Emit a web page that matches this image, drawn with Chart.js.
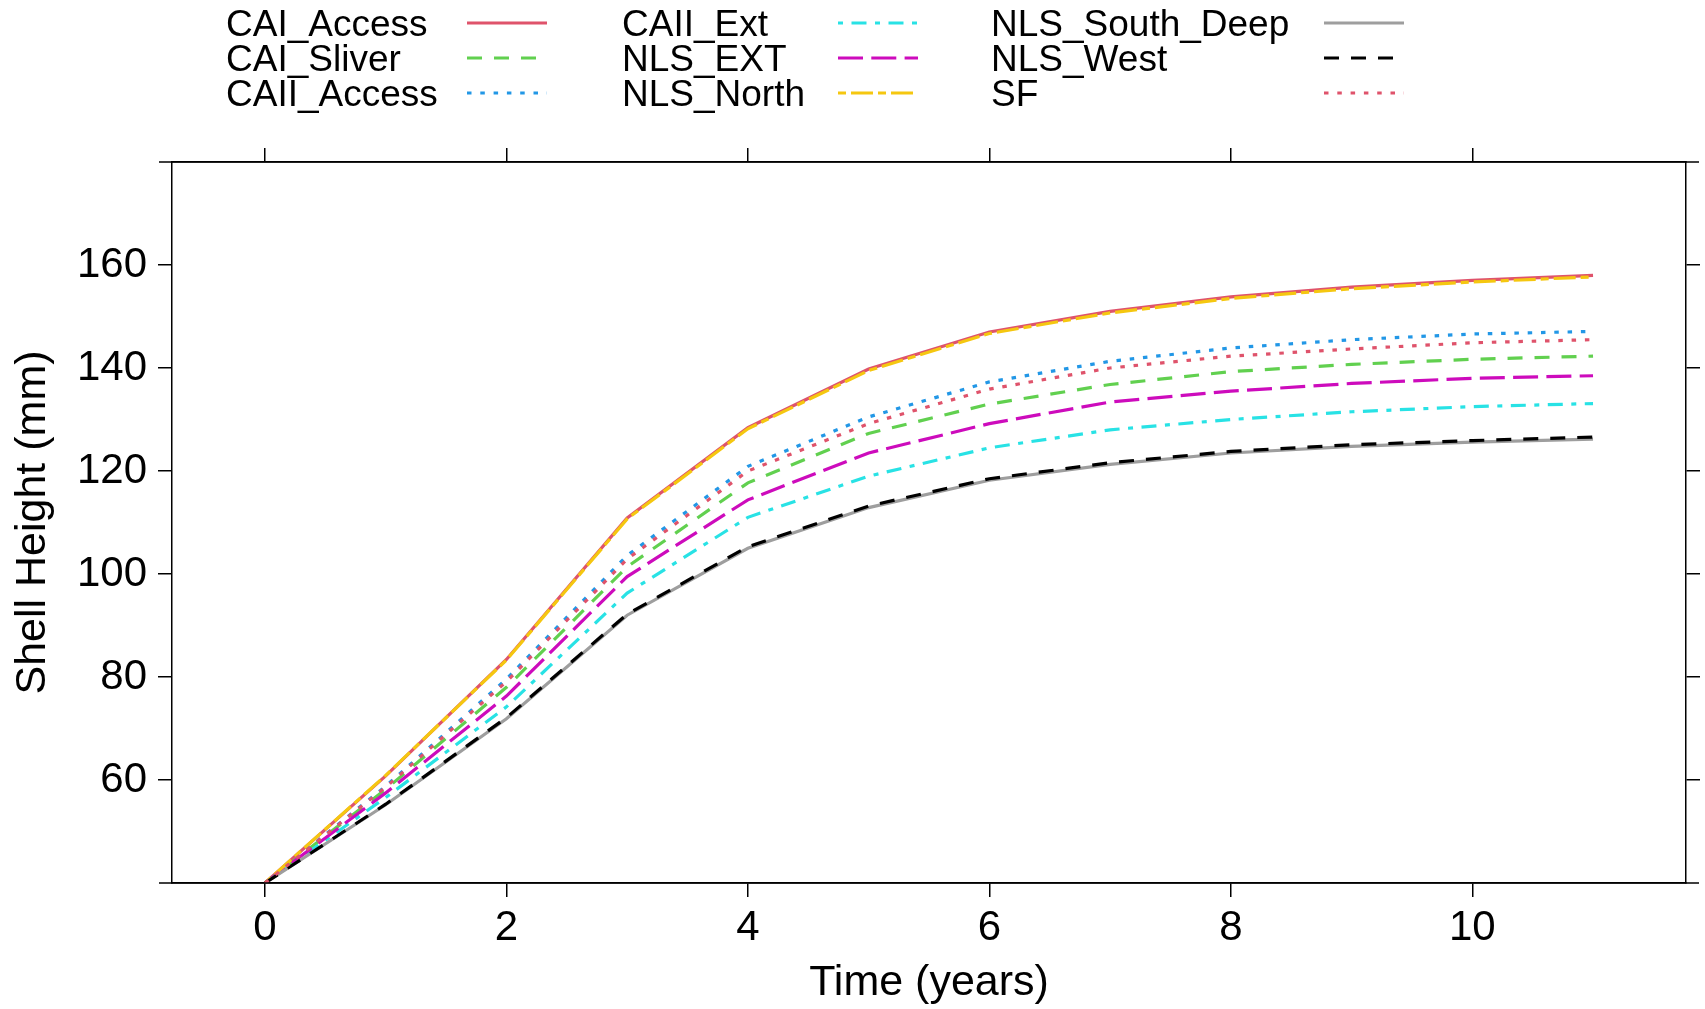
<!DOCTYPE html>
<html>
<head>
<meta charset="utf-8">
<script src="https://cdn.jsdelivr.net/npm/chart.js@4.4.1/dist/chart.umd.min.js"></script>
<style>
  body { margin: 0; background: #fff; }
  canvas { display: block; }
</style>
</head>
<body>
<canvas id="shell_growth" width="1705" height="1009"></canvas>
<script>
// Growth curves (shell height in mm at each age)

const years = [0, 1, 2, 3, 4, 5, 6, 7, 8, 9, 10, 11];

const cai_access     = [40, 60.8, 83.4, 110.9, 128.4, 139.8, 147.0, 151.0, 153.8, 155.7, 157.0, 158.0];
const cai_sliver     = [40, 58.2, 78.0, 101.4, 117.7, 127.3, 133.0, 136.8, 139.3, 140.7, 141.7, 142.3];
const caii_access    = [40, 58.8, 79.6, 103.6, 120.9, 130.5, 137.3, 141.3, 143.9, 145.5, 146.6, 147.1];
const caii_ext       = [40, 56.6, 74.2, 96.3, 111.0, 119.0, 124.5, 128.0, 130.0, 131.5, 132.5, 133.1];
const nls_ext        = [40, 57.5, 76.3, 99.5, 114.4, 123.5, 129.2, 133.4, 135.5, 137.0, 138.0, 138.5];
const nls_north      = [40, 60.9, 83.3, 110.7, 128.2, 139.5, 146.7, 150.7, 153.5, 155.4, 156.7, 157.7];
const nls_south_deep = [40, 55.2, 71.9, 92.0, 105.0, 112.9, 118.2, 121.3, 123.5, 124.8, 125.6, 126.2];
const nls_west       = [40, 55.3, 72.1, 92.2, 105.3, 113.2, 118.5, 121.6, 123.8, 125.1, 125.9, 126.6];
const sf             = [40, 58.6, 79.1, 102.9, 120.0, 129.2, 135.9, 140.0, 142.3, 143.7, 144.9, 145.5];

const seriesNames = ['CAI_Access', 'CAI_Sliver', 'CAII_Access', 'CAII_Ext', 'NLS_EXT',
                     'NLS_North', 'NLS_South_Deep', 'NLS_West', 'SF'];
const seriesValues = [cai_access, cai_sliver, caii_access, caii_ext, nls_ext,
                      nls_north, nls_south_deep, nls_west, sf];

const xTicks = [0, 2, 4, 6, 8, 10];
const yTicks = [60, 80, 100, 120, 140, 160];

// styles (R default palette + lty 1..6 cycling)
const lineColors = ['#DF536B', '#61D04F', '#2297E6', '#28E2E5', '#CD0BBC',
                    '#F5C710', '#9E9E9E', '#000000', '#DF536B'];
const dashed = [15, 12];
const dotted = [4.5, 8.8];
const lineDashes = [[], dashed, dotted, [5, 8.5, 15, 8.5], [25, 8.3],
                    [8, 5, 22, 5], [], dashed, dotted];

const fontFamily = '"Liberation Sans", Arial, sans-serif';

const datasets = seriesNames.map((name, i) => ({
    label: name,
    data: years.map((t, j) => ({ x: t, y: seriesValues[i][j] })),
    borderColor: lineColors[i],
    borderDash: lineDashes[i],
    borderWidth: 3.2,
    pointRadius: 0,
    tension: 0,
    fill: false,
    order: seriesNames.length - i,
}));

// legend drawn as text followed by a line sample, three columns of three
const sideLegend = {
    id: 'sideLegend',
    afterDraw(chart) {
        const ctx = chart.ctx;
        const textX = [226, 622, 991];
        const lineX = [467, 838, 1324];
        const rowY = [25, 60, 95];
        ctx.save();
        ctx.font = '37px ' + fontFamily;
        ctx.fillStyle = '#000';
        ctx.textBaseline = 'middle';
        chart.data.datasets.forEach((ds, i) => {
            const col = Math.floor(i / 3), row = i % 3;
            ctx.fillText(ds.label, textX[col], rowY[row] + 1);
            ctx.beginPath();
            ctx.strokeStyle = ds.borderColor;
            ctx.lineWidth = 3.2;
            ctx.setLineDash(ds.borderDash);
            ctx.moveTo(lineX[col], rowY[row] - 2);
            ctx.lineTo(lineX[col] + 80, rowY[row] - 2);
            ctx.stroke();
        });
        ctx.restore();
    }
};

// top and bottom box lines run slightly past the sides
const boxLines = {
    id: 'boxLines',
    afterDraw(chart) {
        const { ctx, chartArea: a } = chart;
        ctx.save();
        ctx.strokeStyle = '#000';
        ctx.lineWidth = 1.5;
        ctx.beginPath();
        ctx.moveTo(a.left - 13, a.top); ctx.lineTo(a.right + 13, a.top);
        ctx.moveTo(a.left - 13, a.bottom); ctx.lineTo(a.right + 13, a.bottom);
        ctx.stroke();
        ctx.restore();
    }
};

const frameGrid = { drawOnChartArea: false, drawTicks: true, tickLength: 14, color: '#000', lineWidth: 1.5 };
const frameBorder = { display: true, color: '#000', width: 1.5 };

new Chart(document.getElementById('shell_growth'), {
    type: 'line',
    data: { datasets: datasets },
    options: {
        responsive: false,
        animation: false,
        layout: { padding: 0 },
        plugins: {
            legend: { display: false },
            tooltip: { enabled: false },
        },
        scales: {
            x: {
                type: 'linear', position: 'bottom', min: -0.77, max: 11.77,
                afterBuildTicks: s => { s.ticks = xTicks.map(v => ({ value: v })); },
                afterFit: s => { s.height = 126; },
                grid: frameGrid, border: frameBorder,
                ticks: { color: '#000', font: { family: fontFamily, size: 42 }, padding: 6, maxRotation: 0 },
                title: { display: true, text: 'Time (years)', color: '#000',
                         font: { family: fontFamily, size: 43 }, padding: { top: 0, bottom: 0 } },
            },
            xTop: {
                type: 'linear', position: 'top', min: -0.77, max: 11.77,
                afterBuildTicks: s => { s.ticks = xTicks.map(v => ({ value: v })); },
                afterFit: s => { s.height = 162; },
                grid: frameGrid, border: frameBorder,
                ticks: { display: false },
            },
            y: {
                type: 'linear', position: 'left', min: 40, max: 180,
                afterBuildTicks: s => { s.ticks = yTicks.map(v => ({ value: v })); },
                afterFit: s => { s.width = 172; },
                grid: frameGrid, border: frameBorder,
                ticks: { color: '#000', font: { family: fontFamily, size: 42 }, padding: 11 },
                title: { display: true, text: 'Shell Height (mm)', color: '#000',
                         font: { family: fontFamily, size: 43 }, padding: { top: 7, bottom: 0 } },
            },
            yRight: {
                type: 'linear', position: 'right', min: 40, max: 180,
                afterBuildTicks: s => { s.ticks = yTicks.map(v => ({ value: v })); },
                afterFit: s => { s.width = 19; },
                grid: frameGrid, border: frameBorder,
                ticks: { display: false },
            },
        },
    },
    plugins: [sideLegend, boxLines],
});
</script>
</body>
</html>
